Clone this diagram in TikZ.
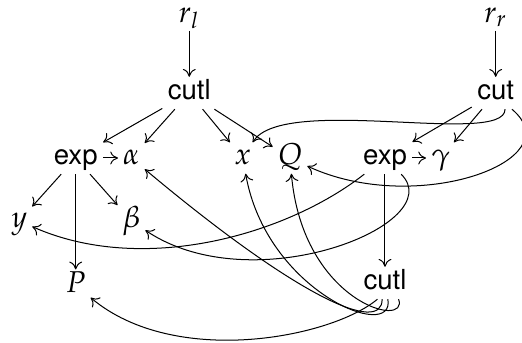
\documentclass[tikz,border=0pt]{standalone}
\usepackage{mathpazo}
\usepackage{fontspec}
\newfontfamily\heros{TeX Gyre Heros}
\usetikzlibrary{arrows.meta}

\begin{document}
\begin{tikzpicture}[
 oper/.style={font=\heros\fontsize{11}{13}\selectfont,inner sep=2pt,text height=7pt,text depth=1.5pt},
 atom/.style={font=\large,inner sep=1.8pt,text height=7pt,text depth=1.5pt},
 edge/.style={-{To[length=1.1mm,width=1.8mm]},line width=0.4pt}
]
\useasboundingbox (0,0) rectangle (7.308,4.802);

\node[atom] (rl) at (2.65,4.59) {$r_l$};
\node[oper] (cutlA) at (2.65,3.50) {cutl};
\node[oper] (expL) at (1.06,2.59) {exp};
\node[atom] (alpha) at (1.84,2.59) {$\alpha$};
\node[atom] (x) at (3.40,2.59) {$x$};
\node[atom] (Q) at (4.06,2.59) {$Q$};
\node[oper] (expR) at (5.39,2.59) {exp};
\node[atom] (gamma) at (6.17,2.59) {$\gamma$};
\node[oper] (cutR) at (6.94,3.50) {cut};
\node[atom] (rr) at (6.94,4.59) {$r_r$};
\node[atom] (y) at (0.27,1.71) {$y$};
\node[atom] (beta) at (1.84,1.71) {$\beta$};
\node[atom] (P) at (1.06,0.81) {$P$};
\node[oper] (cutlB) at (5.39,0.84) {cutl};

\draw[edge] (rl) -- (cutlA);
\draw[edge] (cutlA) -- (expL);
\draw[edge] (cutlA) -- (alpha);
\draw[edge] (cutlA) -- (x);
\draw[edge] (cutlA) -- (Q);
\draw[edge] (expL) -- (alpha);
\draw[edge] (expL) -- (y);
\draw[edge] (expL) -- (beta);
\draw[edge] (expL) -- (P);

\draw[edge] (rr) -- (cutR);
\draw[edge] (cutR) -- (expR);
\draw[edge] (cutR) -- (gamma);
\draw[edge] (expR) -- (gamma);
\draw[edge] (expR) -- (cutlB);

% long arcs back to the left part
\draw[edge] (cutR.-60) to[out=-90,in=58,out distance=0.53cm,in distance=0.8cm] (x);
\draw[edge] (cutR.-45) to[out=-40,in=-25,out distance=1.12cm,in distance=1.68cm] (Q);
\draw[edge] (expR) to[out=-142,in=-24,out distance=1.4cm,in distance=1.68cm] (y);
\draw[edge] (expR) to[out=-45,in=-34,out distance=0.98cm,in distance=1.82cm] (beta);
\draw[edge] (cutlB.-115) to[out=-140,in=-40,out distance=0.84cm,in distance=1.54cm] (P);
\draw[edge] (cutlB.-100) to[out=-90,in=-40,out distance=0.5cm,in distance=2.8cm] (alpha);
\draw[edge] (cutlB.-80) to[out=-80,in=-80,out distance=0.62cm,in distance=1.68cm] (x);
\draw[edge] (cutlB.-50) to[out=-70,in=-85,out distance=0.45cm,in distance=1.82cm] (Q);
\end{tikzpicture}
\end{document}
